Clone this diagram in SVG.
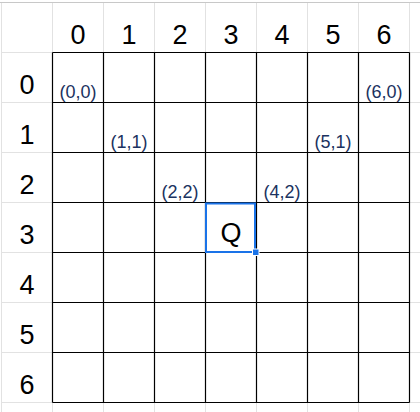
<svg xmlns="http://www.w3.org/2000/svg" width="420" height="412" viewBox="0 0 420 412">
<style>
.hdr{font-family:"Liberation Sans",Arial,sans-serif;font-size:27px;fill:#000;text-anchor:middle}
.lbl{font-family:"Liberation Sans",Arial,sans-serif;font-size:18px;fill:#1b3260;text-anchor:middle}
.g{stroke:#e2e2e2;stroke-width:1;fill:none}
.b{stroke:#000;stroke-width:1.2;fill:none}
</style>
<rect width="420" height="412" fill="#fff"/>
<g id="gridlines-light">
<path class="g" d="M1.5 2.5V412M52.5 2.5V412M103.5 2.5V412M154.5 2.5V412M205.5 2.5V412M256.5 2.5V412M307.5 2.5V412M358.5 2.5V412M409.5 2.5V412"/>
<path class="g" d="M1.5 52.5H420M1.5 102.5H420M1.5 152.5H420M1.5 202.5H420M1.5 252.5H420M1.5 302.5H420M1.5 352.5H420M1.5 402.5H420"/>
<path d="M0 2.5H420" stroke="#c8c8c8" stroke-width="1"/>
</g>
<g id="grid">
<path class="b" d="M52.5 52.5V402.5M103.5 52.5V402.5M154.5 52.5V402.5M205.5 52.5V402.5M256.5 52.5V402.5M307.5 52.5V402.5M358.5 52.5V402.5M409.5 52.5V402.5"/>
<path class="b" d="M52.5 52.5H409.5M52.5 102.5H409.5M52.5 152.5H409.5M52.5 202.5H409.5M52.5 252.5H409.5M52.5 302.5H409.5M52.5 352.5H409.5M52.5 402.5H409.5"/>
</g>
<g id="col-headers">
<text class="hdr" x="78" y="43.5">0</text>
<text class="hdr" x="129" y="43.5">1</text>
<text class="hdr" x="180" y="43.5">2</text>
<text class="hdr" x="231" y="43.5">3</text>
<text class="hdr" x="282" y="43.5">4</text>
<text class="hdr" x="333" y="43.5">5</text>
<text class="hdr" x="384" y="43.5">6</text>
</g>
<g id="row-headers">
<text class="hdr" x="27" y="93.5">0</text>
<text class="hdr" x="27" y="143.5">1</text>
<text class="hdr" x="27" y="193.5">2</text>
<text class="hdr" x="27" y="243.5">3</text>
<text class="hdr" x="27" y="293.5">4</text>
<text class="hdr" x="27" y="343.5">5</text>
<text class="hdr" x="27" y="393.5">6</text>
</g>
<g id="cell-0-0"><text class="lbl" x="78" y="97.5">(0,0)</text></g>
<g id="cell-6-0"><text class="lbl" x="384" y="97.5">(6,0)</text></g>
<g id="cell-1-1"><text class="lbl" x="129" y="147.5">(1,1)</text></g>
<g id="cell-5-1"><text class="lbl" x="333" y="147.5">(5,1)</text></g>
<g id="cell-2-2"><text class="lbl" x="180" y="197.5">(2,2)</text></g>
<g id="cell-4-2"><text class="lbl" x="282" y="197.5">(4,2)</text></g>
<g id="cell-3-3">
<rect x="206" y="203.5" width="49" height="48.5" fill="none" stroke="#1a73e8" stroke-width="2"/>
<rect x="252.5" y="249" width="6.5" height="6.5" fill="#1a73e8" stroke="#fff" stroke-width="1"/>
<text class="hdr" x="231" y="242">Q</text>
</g>
</svg>
